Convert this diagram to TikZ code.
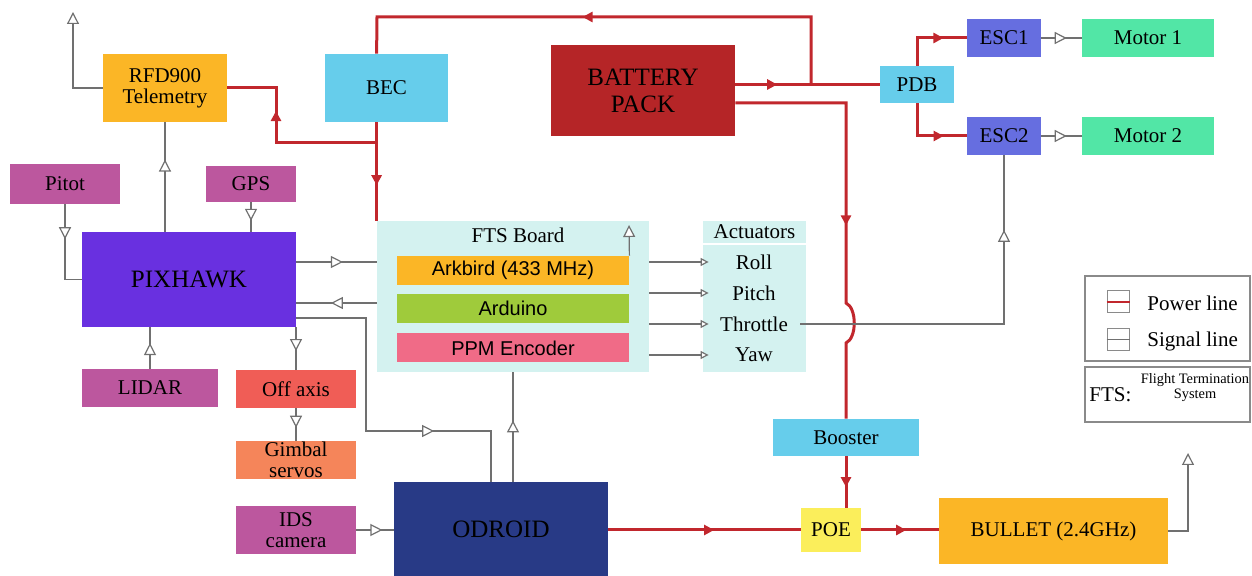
\documentclass[tikz,border=0pt]{standalone}
\usepackage{fontspec}
\setmainfont{Liberation Serif}
\newfontfamily\boardfont{Liberation Sans}
\usepackage{xcolor}
\usetikzlibrary{arrows.meta,decorations.markings}

\definecolor{pwrred}{HTML}{C1272D}
\definecolor{sigcol}{HTML}{707070}
\definecolor{legcol}{HTML}{8A8A8A}
\definecolor{orangec}{HTML}{FBB626}
\definecolor{bluec}{HTML}{66CDEB}
\definecolor{batred}{HTML}{B52527}
\definecolor{escblue}{HTML}{666EE0}
\definecolor{motgreen}{HTML}{52E6A6}
\definecolor{sensmag}{HTML}{BC579E}
\definecolor{pixpurp}{HTML}{6930E0}
\definecolor{offred}{HTML}{F05D56}
\definecolor{gimorange}{HTML}{F5855A}
\definecolor{ftscyan}{HTML}{D4F2F0}
\definecolor{ardgreen}{HTML}{9FCB3B}
\definecolor{ppmpink}{HTML}{F06B87}
\definecolor{odnavy}{HTML}{283A86}
\definecolor{poeyellow}{HTML}{FBEE5B}

\begin{document}
\begin{tikzpicture}[x=0.5pt,y=-0.5pt,
  blk/.style={inner sep=0pt,align=center,font=\fontsize{10.5}{10.5}\selectfont},
  big/.style={font=\fontsize{12.5}{13.5}\selectfont},
  chip/.style={blk,font=\boardfont\fontsize{10}{10}\selectfont,minimum width=116pt,minimum height=14.5pt},
  sig/.style={draw=sigcol,line width=0.6pt},
  pwr/.style={draw=pwrred,line width=1.5pt},
  sigtip/.tip={Triangle[length=6pt,width=6pt,fill=white]},
  acttip/.tip={Triangle[length=4pt,width=4pt,fill=white]},
  pwrtip/.tip={Triangle[length=5pt,width=5pt]},
  sigmid/.style={postaction={decorate,decoration={markings,mark=at position #1 with {\arrow{sigtip}}}}},
  pwrmid/.style={postaction={decorate,decoration={markings,mark=at position #1 with {\arrow{pwrtip}}}}}]
  \useasboundingbox (0,0) rectangle (1252,576);

  % top row: radio, power
  \node[blk,fill=orangec,minimum width=62pt,minimum height=34pt] (rfd) at (165,88) {RFD900\\Telemetry};
  \node[blk,fill=bluec,minimum width=61.5pt,minimum height=34pt] (bec) at (386.5,88) {BEC};
  \node[blk,big,fill=batred,minimum width=92pt,minimum height=45.5pt] (bat) at (643,90.5) {BATTERY\\PACK};
  \node[blk,fill=bluec,minimum width=37pt,minimum height=18.5pt] (pdb) at (917,84.5) {PDB};
  \node[blk,fill=escblue,minimum width=37pt,minimum height=19pt] (esc1) at (1004,38) {ESC1};
  \node[blk,fill=escblue,minimum width=37pt,minimum height=19pt] (esc2) at (1004,136) {ESC2};
  \node[blk,fill=motgreen,minimum width=66pt,minimum height=19pt] (mot1) at (1148,38) {Motor 1};
  \node[blk,fill=motgreen,minimum width=66pt,minimum height=19pt] (mot2) at (1148,136) {Motor 2};

  % autopilot and sensors
  \node[blk,fill=sensmag,minimum width=55pt,minimum height=20pt] (pitot) at (65,184) {Pitot};
  \node[blk,fill=sensmag,minimum width=45pt,minimum height=18pt] (gps) at (251,184) {GPS};
  \node[blk,big,fill=pixpurp,minimum width=107pt,minimum height=47.5pt] (pix) at (189,279.5) {PIXHAWK};
  \node[blk,fill=sensmag,minimum width=68pt,minimum height=19pt] (lidar) at (150,388) {LIDAR};
  \node[blk,fill=offred,minimum width=60pt,minimum height=19pt] (offax) at (296,389) {Off axis};
  \node[blk,fill=gimorange,minimum width=60pt,minimum height=19pt] (gimbal) at (296,460) {Gimbal\\servos};
  \node[blk,fill=sensmag,minimum width=60pt,minimum height=24pt] (ids) at (296,530) {IDS\\camera};
  \node[blk,big,fill=odnavy,minimum width=107pt,minimum height=47pt] (odroid) at (501,529) {ODROID};

  % fts board
  \node[fill=ftscyan,inner sep=0pt,minimum width=136pt,minimum height=75.5pt] (fts) at (513,296.5) {};
  \node[blk] (ftstitle) at (518,235) {FTS Board};
  \node[chip,fill=orangec] (ark) at (513,270.5) {Arkbird (433 MHz)};
  \node[chip,fill=ardgreen] (ard) at (513,308.5) {Arduino};
  \node[chip,fill=ppmpink] (ppm) at (513,348) {PPM Encoder};

  % actuators
  \node[fill=ftscyan,inner sep=0pt,minimum width=51.5pt,minimum height=75.5pt] (act) at (754.5,296.5) {};
  \node[blk] (acttitle) at (754.5,232) {Actuators};
  \draw[white,line width=1.2pt] (act.west |- 0,244) -- (act.east |- 0,244);
  \node[blk] (roll) at (754,262) {Roll};
  \node[blk] (pitch) at (754,293) {Pitch};
  \node[blk] (thr) at (754,324) {Throttle};
  \node[blk] (yaw) at (754,355) {Yaw};

  % video link
  \node[blk,fill=bluec,minimum width=73pt,minimum height=18.5pt] (booster) at (846,437.5) {Booster};
  \node[blk,fill=poeyellow,minimum width=30pt,minimum height=22pt] (poe) at (831,530) {POE};
  \node[blk,fill=orangec,minimum width=114.5pt,minimum height=33pt] (bullet) at (1053.5,531) {BULLET (2.4GHz)};

  % free ends and junctions
  \coordinate (rfdout) at (73,12);
  \coordinate (arkout) at (629,225);
  \coordinate (bulletout) at (1188,453);
  \coordinate (jtop) at (811,84.5);
  \coordinate (jbec) at (377,143);

  % power lines
  \draw[pwr,pwrmid=0.29] (bat.east |- pdb.west) -- (pdb.west);
  \draw[pwr,pwrmid=0.55] (jtop) -- (811,17) -- (377,17) -- (fts.north west |- bec.north);
  \draw[pwr,pwrmid=0.64] (fts.north west |- bec.south) -- (fts.north west);
  \draw[pwr,pwrmid=0.65] (jbec) -- (276,143) -- (276,88) -- (rfd.east);
  \draw[pwr,pwrmid=0.54] (bat.east |- 0,103) -- (846,103) -- (846,303)
    .. controls (857,308) and (857,338) .. (846,343) -- (booster.north);
  \draw[pwr,pwrmid=0.6] (booster.south) -- (booster.south |- poe.north);
  \draw[pwr,pwrmid=0.55] (odroid.east |- poe.west) -- (poe.west);
  \draw[pwr,pwrmid=0.58] (poe.east) -- (bullet.west |- poe.east);
  \draw[pwr,pwrmid=0.7] (pdb.north) |- (esc1.west);
  \draw[pwr,pwrmid=0.72] (pdb.south) |- (esc2.west);

  % signal lines
  \draw[sig,-sigtip] (rfd.west) -| (rfdout);
  \draw[sig,sigmid=0.66] (rfd.south |- pix.north) -- (rfd.south);
  \draw[sig,sigmid=0.63] (gps.south) -- (gps.south |- pix.north);
  \draw[sig,sigmid=0.38] (pitot.south) |- (pix.west);
  \draw[sig,sigmid=0.58] (pix.east |- 0,262) -- (fts.west |- 0,262);
  \draw[sig,sigmid=0.57] (fts.west |- 0,303) -- (pix.east |- 0,303);
  \draw[sig,sigmid=0.70] (pix.east |- 0,318) -- (366,318) -- (366,431) -- (491,431) -- (491,0 |- odroid.north);
  \draw[sig,sigmid=0.56] (offax.north |- pix.south) -- (offax.north);
  \draw[sig,sigmid=0.60] (offax.south) -- (gimbal.north);
  \draw[sig,sigmid=0.62] (lidar.north) -- (lidar.north |- pix.south);
  \draw[sig,sigmid=0.56] (fts.south |- odroid.north) -- (fts.south);
  \draw[sig,sigmid=0.70] (ids.east) -- (odroid.west |- ids.east);
  \draw[sig,-sigtip] (ark.north east) -- (arkout);
  \foreach \row in {roll,pitch,thr,yaw}
    \draw[sig,-acttip] (fts.east |- \row) -- ([xshift=3pt]act.west |- \row);
  \draw[sig,sigmid=0.80] ([xshift=6pt]thr.east) -| (esc2.south);
  \draw[sig,sigmid=0.63] (esc1.east) -- (mot1.west);
  \draw[sig,sigmid=0.63] (esc2.east) -- (mot2.west);
  \draw[sig,-sigtip] (bullet.east) -| (bulletout);

  % legend
  \node[draw=legcol,line width=0.6pt,minimum width=82.5pt,minimum height=42.5pt] (legend) at (1167.5,318.5) {};
  \node[draw=legcol,line width=0.5pt,inner sep=0pt,minimum width=11pt,minimum height=11pt] (pwrkey) at (1118,302) {};
  \node[draw=legcol,line width=0.5pt,inner sep=0pt,minimum width=11pt,minimum height=11pt] (sigkey) at (1118,339.5) {};
  \draw[pwr,line width=1.2pt] (pwrkey.west) -- (pwrkey.east);
  \draw[sig] (sigkey.west) -- (sigkey.east);
  \node[blk,anchor=west] (pwrtxt) at (1147,303) {Power line};
  \node[blk,anchor=west] (sigtxt) at (1147,341) {Signal line};
  \node[draw=legcol,line width=0.6pt,minimum width=82.5pt,minimum height=27.5pt] (ftsbox) at (1167.5,394.5) {};
  \node[blk,anchor=west] (ftsabbr) at (1089,395) {FTS:};
  \node[blk,font=\fontsize{7.2}{7.5}\selectfont] (ftslong) at (1195,388) {Flight Termination\\System};
\end{tikzpicture}
\end{document}
